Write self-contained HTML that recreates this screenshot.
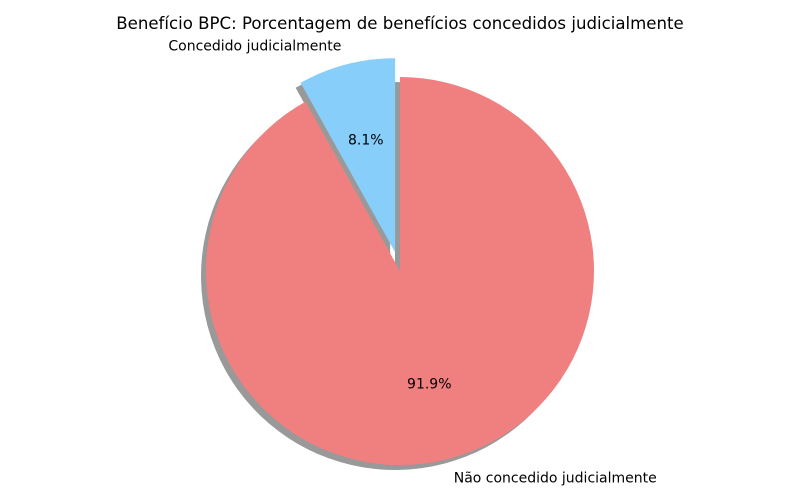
<!DOCTYPE html>
<html><head><meta charset="utf-8"><style>
body{margin:0;background:#fff;}
svg{display:block;font-family:"DejaVu Sans","Liberation Sans",sans-serif;}
</style></head><body>
<svg id="chart" width="800" height="500">
<text x="400" y="29" text-anchor="middle" font-size="16.6">Benefício BPC: Porcentagem de benefícios concedidos judicialmente</text>
<g id="shadows"></g><g id="slices"></g><g id="labels"></g>
</svg>
<script>
const categories=["Concedido judicialmente","Não concedido judicialmente"];
const values=[8.1,91.9];
const colors=["#87cefa","#f08080"];
const explode=[0.1,0];
const cx=400,cy=271,R=194,start=90;
const NS="http://www.w3.org/2000/svg";
const total=values.reduce((a,b)=>a+b,0);
let a0=start;
const sh=document.getElementById('shadows'),sl=document.getElementById('slices'),lb=document.getElementById('labels');
function pt(x,y,r,deg){const t=deg*Math.PI/180;return [x+r*Math.cos(t),y-r*Math.sin(t)];}
values.forEach((v,i)=>{
  const sweep=v/total*360,a1=a0+sweep,mid=(a0+a1)/2;
  const [ox,oy]=pt(cx,cy,explode[i]*R,mid);
  const [x0,y0]=pt(ox,oy,R,a0),[x1,y1]=pt(ox,oy,R,a1);
  const large=sweep>180?1:0;
  const d=`M${ox},${oy} L${x0},${y0} A${R},${R} 0 ${large} 0 ${x1},${y1} Z`;
  const s=document.createElementNS(NS,'path');
  s.setAttribute('d',d);s.setAttribute('transform','translate(-5,5)');
  s.setAttribute('fill','#000');s.setAttribute('opacity','0.4');
  
  
  sh.appendChild(s);
  const p=document.createElementNS(NS,'path');
  p.setAttribute('d',d);p.setAttribute('fill',colors[i]);
  
  
  sl.appendChild(p);
  const [lx,ly]=pt(ox,oy,1.1*R,mid);
  const t=document.createElementNS(NS,'text');
  t.setAttribute('x',lx);t.setAttribute('y',ly+5);t.setAttribute('font-size','14');
  t.setAttribute('text-anchor',lx<ox?'end':'start');t.textContent=categories[i];
  
  
  lb.appendChild(t);
  const [px,py]=pt(ox,oy,0.6*R,mid);
  const q=document.createElementNS(NS,'text');
  q.setAttribute('x',px);q.setAttribute('y',py+5);q.setAttribute('font-size','14');
  q.setAttribute('text-anchor','middle');q.textContent=v.toFixed(1)+'%';
  
  
  lb.appendChild(q);
  a0=a1;
});
</script>
</body></html>
